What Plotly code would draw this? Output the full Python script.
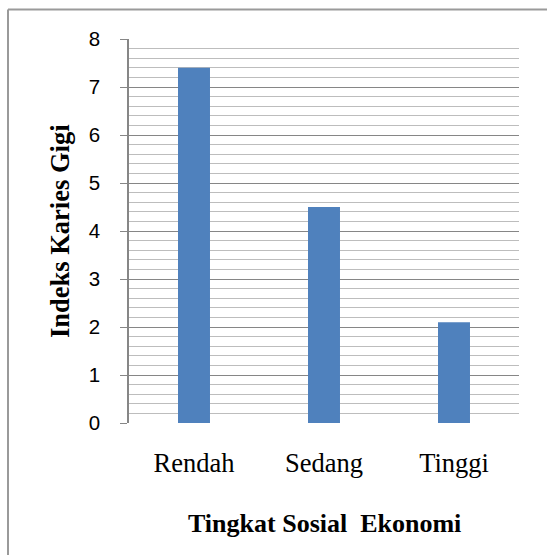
import plotly.graph_objects as go

categories = ["Rendah", "Sedang", "Tinggi"]
values = [7.4, 4.5, 2.1]
y_ticks = [0, 1, 2, 3, 4, 5, 6, 7, 8]
x_title = "Tingkat Sosial  Ekonomi"
y_title = "Indeks Karies Gigi"

W, H = 547, 555
L, R, T, B = 129, 28, 39, 132
pw, ph = W - L - R, H - T - B

def px(xpix):
    return (xpix - L) / pw

def py(ypix):
    return (H - B - ypix) / ph

fig = go.Figure(go.Bar(
    x=categories, y=values, width=0.246,
    marker=dict(color="#4f81bd", line=dict(width=0)),
))

fig.update_layout(
    width=W, height=H,
    margin=dict(l=L, r=R, t=T, b=B, autoexpand=False),
    paper_bgcolor="white", plot_bgcolor="white",
    showlegend=False,
    xaxis=dict(
        showgrid=False, zeroline=False, showline=False, ticks="",
        tickfont=dict(family="Liberation Serif", size=26.5, color="black"),
        ticklabelstandoff=21,
    ),
    yaxis=dict(
        range=[0, 8], tickvals=y_ticks, ticktext=[str(v) for v in y_ticks],
        showgrid=True, gridcolor="#868686", gridwidth=1.3,
        zeroline=False, showline=True, linecolor="#868686", linewidth=1.5,
        ticks="outside", ticklen=7, tickcolor="#868686", tickwidth=1.3,
        tickfont=dict(family="Liberation Sans", size=20.5, color="black"),
        ticklabelstandoff=16,
        minor=dict(dtick=0.2, showgrid=True, gridcolor="#bdbdbd", gridwidth=1.1, ticks=""),
    ),
    annotations=[
        dict(text="<b>" + x_title + "</b>", xref="paper", yref="paper",
             x=0.5, y=py(523), xanchor="center", yanchor="middle", showarrow=False,
             font=dict(family="Liberation Serif", size=26, color="black")),
        dict(text="<b>" + y_title + "</b>", xref="paper", yref="paper",
             x=px(60), y=0.5, xanchor="center", yanchor="middle", showarrow=False,
             textangle=-90,
             font=dict(family="Liberation Serif", size=26.5, color="black")),
    ],
    shapes=[
        dict(type="line", xref="paper", yref="paper",
             x0=px(8), x1=px(560), y0=py(9.5), y1=py(9.5),
             line=dict(color="#9a9a9a", width=2)),
        dict(type="line", xref="paper", yref="paper",
             x0=px(8), x1=px(8), y0=py(9.5), y1=py(570),
             line=dict(color="#9a9a9a", width=2)),
    ],
)

fig.write_html("out.html")
